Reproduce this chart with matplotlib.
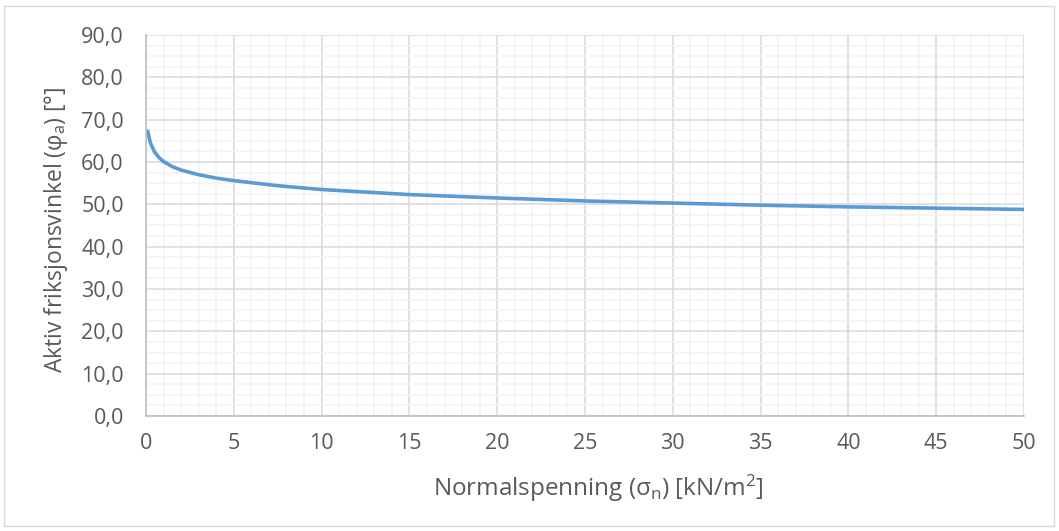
import matplotlib
matplotlib.use("Agg")
import matplotlib.pyplot as plt
from matplotlib.ticker import MultipleLocator, FuncFormatter
from matplotlib.patches import Rectangle

plt.rcParams['font.family'] = ['Open Sans', 'DejaVu Sans']
plt.rcParams['mathtext.fontset'] = 'custom'
plt.rcParams['mathtext.rm'] = 'Open Sans'
plt.rcParams['mathtext.it'] = 'Open Sans'

# data
sigma_n = [0.1, 0.25, 0.5, 0.75, 1, 1.5, 2, 3, 4, 5, 7.5, 10, 15, 20, 25, 30, 35, 40, 45, 50]
phi_a = [67.3, 64.5, 62.3, 61.0, 60.1, 58.9, 58.1, 57.0, 56.2, 55.6, 54.4, 53.5, 52.3, 51.5,
         50.8, 50.3, 49.8, 49.4, 49.1, 48.8]
x_ticks = list(range(0, 51, 5))
y_ticks = list(range(0, 91, 10))

fig = plt.figure(figsize=(10.59, 5.31), dpi=100)
ax = fig.add_axes([146/1059, 1 - 416/531, (1024-146)/1059, (416-35)/531])

fig.patches.append(Rectangle((4/1059, 5/531), 1050/1059, 520/531, transform=fig.transFigure,
                             fill=False, edgecolor='#D9D9D9', linewidth=1))

ax.plot(sigma_n, phi_a, color='#5B9BD5', linewidth=2.6, solid_capstyle='round')

ax.set_xlim(0, 50)
ax.set_ylim(0, 90)
ax.set_xticks(x_ticks)
ax.set_yticks(y_ticks)
ax.xaxis.set_minor_locator(MultipleLocator(1))
ax.yaxis.set_minor_locator(MultipleLocator(2.5))
ax.yaxis.set_major_formatter(FuncFormatter(lambda v, p: f"{v:.1f}".replace('.', ',')))
ax.xaxis.set_major_formatter(FuncFormatter(lambda v, p: f"{int(v)}"))

ax.grid(which='major', color='#D9D9D9', linewidth=1.1)
ax.grid(which='minor', color='#F2F2F2', linewidth=1.1)
ax.set_axisbelow(True)

for s in ['top', 'right']:
    ax.spines[s].set_visible(False)
for s in ['left', 'bottom']:
    ax.spines[s].set_color('#BFBFBF')
    ax.spines[s].set_linewidth(1.2)

ax.tick_params(which='both', length=0, labelsize=15.5, colors='#595959')
ax.tick_params(axis='y', pad=16)
ax.tick_params(axis='x', pad=12)

ax.set_xlabel(r"Normalspenning (σ$_\mathregular{n}$) [kN/m$^\mathregular{2}$]", fontsize=17.5, color='#595959')
ax.set_ylabel(r"Aktiv friksjonsvinkel (φ$_\mathregular{a}$) [°]", fontsize=16.5, color='#595959')
ax.xaxis.set_label_coords((598-146)/(1024-146), (416-496)/(416-35))
ax.yaxis.set_label_coords((56-146)/(1024-146), (416-230)/(416-35))
ax.xaxis.label.set_va('baseline')
ax.yaxis.label.set_va('center')

fig.savefig("out.png", dpi=100)
